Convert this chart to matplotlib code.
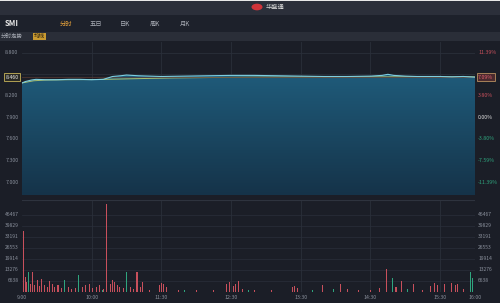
import numpy as np
import matplotlib.pyplot as plt
from matplotlib.patches import Rectangle, Circle

plt.rcParams['font.family'] = ['Noto Sans CJK SC', 'DejaVu Sans']

# datos del grafico (minutos desde la apertura)
prev_close = 7.9
last_price = 8.46

price_min = [0, 3, 8, 12, 20, 30, 40, 50, 60, 70, 74, 78, 85, 90, 100, 110, 120, 140, 160, 180,
             200, 220, 240, 260, 280, 300, 310, 315, 320, 330, 340, 350, 360, 370, 380, 390]
price = [8.38, 8.40, 8.42, 8.43, 8.425, 8.425, 8.43, 8.43, 8.425, 8.43, 8.45, 8.47, 8.48, 8.49, 8.48,
         8.475, 8.47, 8.475, 8.48, 8.485, 8.485, 8.48, 8.475, 8.47, 8.47, 8.475, 8.485, 8.50, 8.485,
         8.475, 8.47, 8.47, 8.47, 8.465, 8.47, 8.46]

avg_min = [0, 10, 20, 40, 60, 80, 100, 130, 160, 200, 250, 300, 350, 390]
avg_price = [8.38, 8.41, 8.42, 8.425, 8.427, 8.433, 8.44, 8.45, 8.455, 8.46, 8.462, 8.464, 8.465, 8.465]

red_min = [1, 3, 4, 7, 9, 11, 13, 15, 17, 19, 22, 24, 26, 28, 31, 34, 40, 43, 46, 52, 55, 58, 61, 64,
           67, 70, 73, 76, 78, 80, 82, 84, 87, 93, 96, 99, 102, 104, 110, 118, 120, 122, 124, 135, 150,
           165, 176, 179, 182, 184, 186, 190, 200, 215, 233, 235, 237, 259, 274, 280, 290, 300, 308,
           314, 322, 327, 337, 345, 352, 355, 358, 364, 370, 373, 375, 380]
red_vol = [37000, 9000, 6000, 5000, 12000, 4000, 7000, 3500, 8000, 4500, 3000, 6500, 5000, 3000, 4000,
           2500, 3000, 2000, 2500, 3000, 4000, 5000, 2500, 3000, 4000, 2000, 53000, 5000, 7000, 6000,
           4000, 3000, 2500, 3000, 2000, 12000, 3000, 6000, 1500, 4000, 5400, 5000, 3000, 1500, 1200,
           1500, 5000, 6000, 3500, 5000, 6600, 2000, 1200, 1500, 3000, 3500, 2500, 4000, 4800, 2000,
           1500, 1500, 2500, 13900, 3000, 6600, 4800, 1500, 3500, 5400, 4000, 5000, 5500, 4000, 5000, 2000]
green_min = [6, 37, 49, 69, 90, 140, 195, 250, 268, 319, 332, 386, 388]
green_vol = [12000, 7200, 10000, 1500, 12000, 1200, 1500, 1500, 1800, 8400, 2000, 12000, 8400]

price_ticks = [8.8, 8.2, 7.9, 7.6, 7.3, 7.0]
vol_ticks = [6638, 13276, 19914, 26553, 33191, 39829, 46467]
time_pos = [0, 60, 120, 180, 240, 300, 360, 390]
time_labels = ['9:00', '10:00', '11:30', '12:30', '13:30', '14:30', '15:30', '16:00']

bg = '#1b1e27'
grid_c = '#2a2f3a'
txt_c = '#8a909c'
up_c = '#c8505c'
down_c = '#2fa57e'

fig = plt.figure(figsize=(5, 3.03), dpi=100, facecolor=bg)

# barras de cabecera
def franja(y0, y1, color):
    fig.add_artist(Rectangle((0, 1 - y1 / 303), 1, (y1 - y0) / 303, transform=fig.transFigure,
                             facecolor=color, edgecolor='none', zorder=0))

franja(0, 15, '#2b2f3a')
franja(0, 1, '#e8e8e8')
franja(15, 32, '#1d212b')
franja(32, 41, '#2a2e38')

fig.add_artist(Circle((257 / 500, 1 - 7 / 303), 0.011, transform=fig.transFigure,
                      facecolor='#d0343a', edgecolor='none'))
fig.text(266 / 500, 1 - 7 / 303, '华盛通', color='#d8d8d8', fontsize=4.5, va='center')
fig.text(5 / 500, 1 - 24 / 303, 'SMI', color='#e8e8e8', fontsize=5.5, fontweight='bold', va='center')
tabs = ['分时', '五日', '日K', '周K', '月K']
tab_x = [60, 90, 120, 150, 180]
for t, x in zip(tabs, tab_x):
    fig.text(x / 500, 1 - 24 / 303, t, color='#e8a33a' if t == '分时' else '#a8acb5',
             fontsize=4.5, va='center')
fig.text(1 / 500, 1 - 36.5 / 303, '分时走势', color='#a8acb5', fontsize=4, va='center')
fig.text(34 / 500, 1 - 36.5 / 303, '均线', color='#2a2010', fontsize=4, va='center',
         bbox=dict(boxstyle='square,pad=0.15', facecolor='#c99a30', edgecolor='none'))

# panel de precio
ax = fig.add_axes([0.044, 0.3564, 0.906, 0.505])
ax.set_facecolor(bg)
ax.set_xlim(0, 390)
ax.set_ylim(6.82, 8.95)
for s in ax.spines.values():
    s.set_visible(False)
ax.set_xticks([])
ax.set_yticks([])
for v in price_ticks + [8.5]:
    ax.axhline(v, color=grid_c, lw=0.6, zorder=1)
for m in time_pos[1:-1]:
    ax.axvline(m, color=grid_c, lw=0.6, zorder=1)

poly = ax.fill_between(price_min, price, 6.82, color='none', zorder=2)
grad = np.linspace(0, 1, 256).reshape(-1, 1)
from matplotlib.colors import LinearSegmentedColormap
cmap = LinearSegmentedColormap.from_list('g', ['#153349', '#1f5b7a'])
im = ax.imshow(grad, cmap=cmap, aspect='auto', extent=[0, 390, 6.82, 8.5], origin='lower', zorder=2)
im.set_clip_path(poly.get_paths()[0], transform=ax.transData)
ax.set_xlim(0, 390)
ax.set_ylim(6.82, 8.95)

ax.plot(avg_min, avg_price, color='#a9c070', lw=0.7, zorder=3)
ax.plot(price_min, price, color='#7ecfe0', lw=0.8, zorder=4)
ax.axhline(last_price, color='#5a3a32', lw=0.5, zorder=3)

for v in price_ticks:
    ax.text(-0.008, v, '%.3f' % v, transform=ax.get_yaxis_transform(), ha='right', va='center',
            color=txt_c, fontsize=3.8)
    pct = (v - prev_close) / prev_close * 100
    col = up_c if pct > 0.01 else (down_c if pct < -0.01 else '#e0e0e0')
    ax.text(1.007, v, '%.2f%%' % pct if abs(pct) > 0.01 else '0.00%', transform=ax.get_yaxis_transform(),
            ha='left', va='center', color=col, fontsize=3.8)
ax.text(-0.008, last_price, '%.3f' % last_price, transform=ax.get_yaxis_transform(), ha='right',
        va='center', color='#e8e8e8', fontsize=3.8,
        bbox=dict(boxstyle='square,pad=0.25', facecolor='#2a2a24', edgecolor='#c8b45a', lw=0.6))
ax.text(1.007, last_price, '%.2f%%' % ((last_price - prev_close) / prev_close * 100),
        transform=ax.get_yaxis_transform(), ha='left', va='center', color='#e06070', fontsize=3.8,
        bbox=dict(boxstyle='square,pad=0.25', facecolor='#4a2a2e', edgecolor='#b89060', lw=0.6))

# panel de volumen
axv = fig.add_axes([0.044, 0.0363, 0.906, 0.3036])
axv.set_facecolor(bg)
axv.set_xlim(0, 390)
axv.set_ylim(0, 55500)
for s in axv.spines.values():
    s.set_visible(False)
axv.set_xticks([])
axv.set_yticks([])
axv.axhline(55500, color='#2e333e', lw=0.8)
for v in vol_ticks:
    axv.axhline(v, color=grid_c, lw=0.5, zorder=1)
    axv.text(-0.008, v, str(v), transform=axv.get_yaxis_transform(), ha='right', va='center',
             color=txt_c, fontsize=3.6)
    axv.text(1.007, v, str(v), transform=axv.get_yaxis_transform(), ha='left', va='center',
             color=txt_c, fontsize=3.6)
for m in time_pos[1:-1]:
    axv.axvline(m, color=grid_c, lw=0.6, zorder=1)
axv.bar(red_min, red_vol, width=0.9, color=up_c, zorder=2)
axv.bar(green_min, green_vol, width=0.9, color=down_c, zorder=2)

for m, lab in zip(time_pos, time_labels):
    axv.text(m, -0.055, lab, transform=axv.get_xaxis_transform(), ha='center', va='center',
             color=txt_c, fontsize=3.8)

fig.savefig('out.png', dpi=100, facecolor=bg)
